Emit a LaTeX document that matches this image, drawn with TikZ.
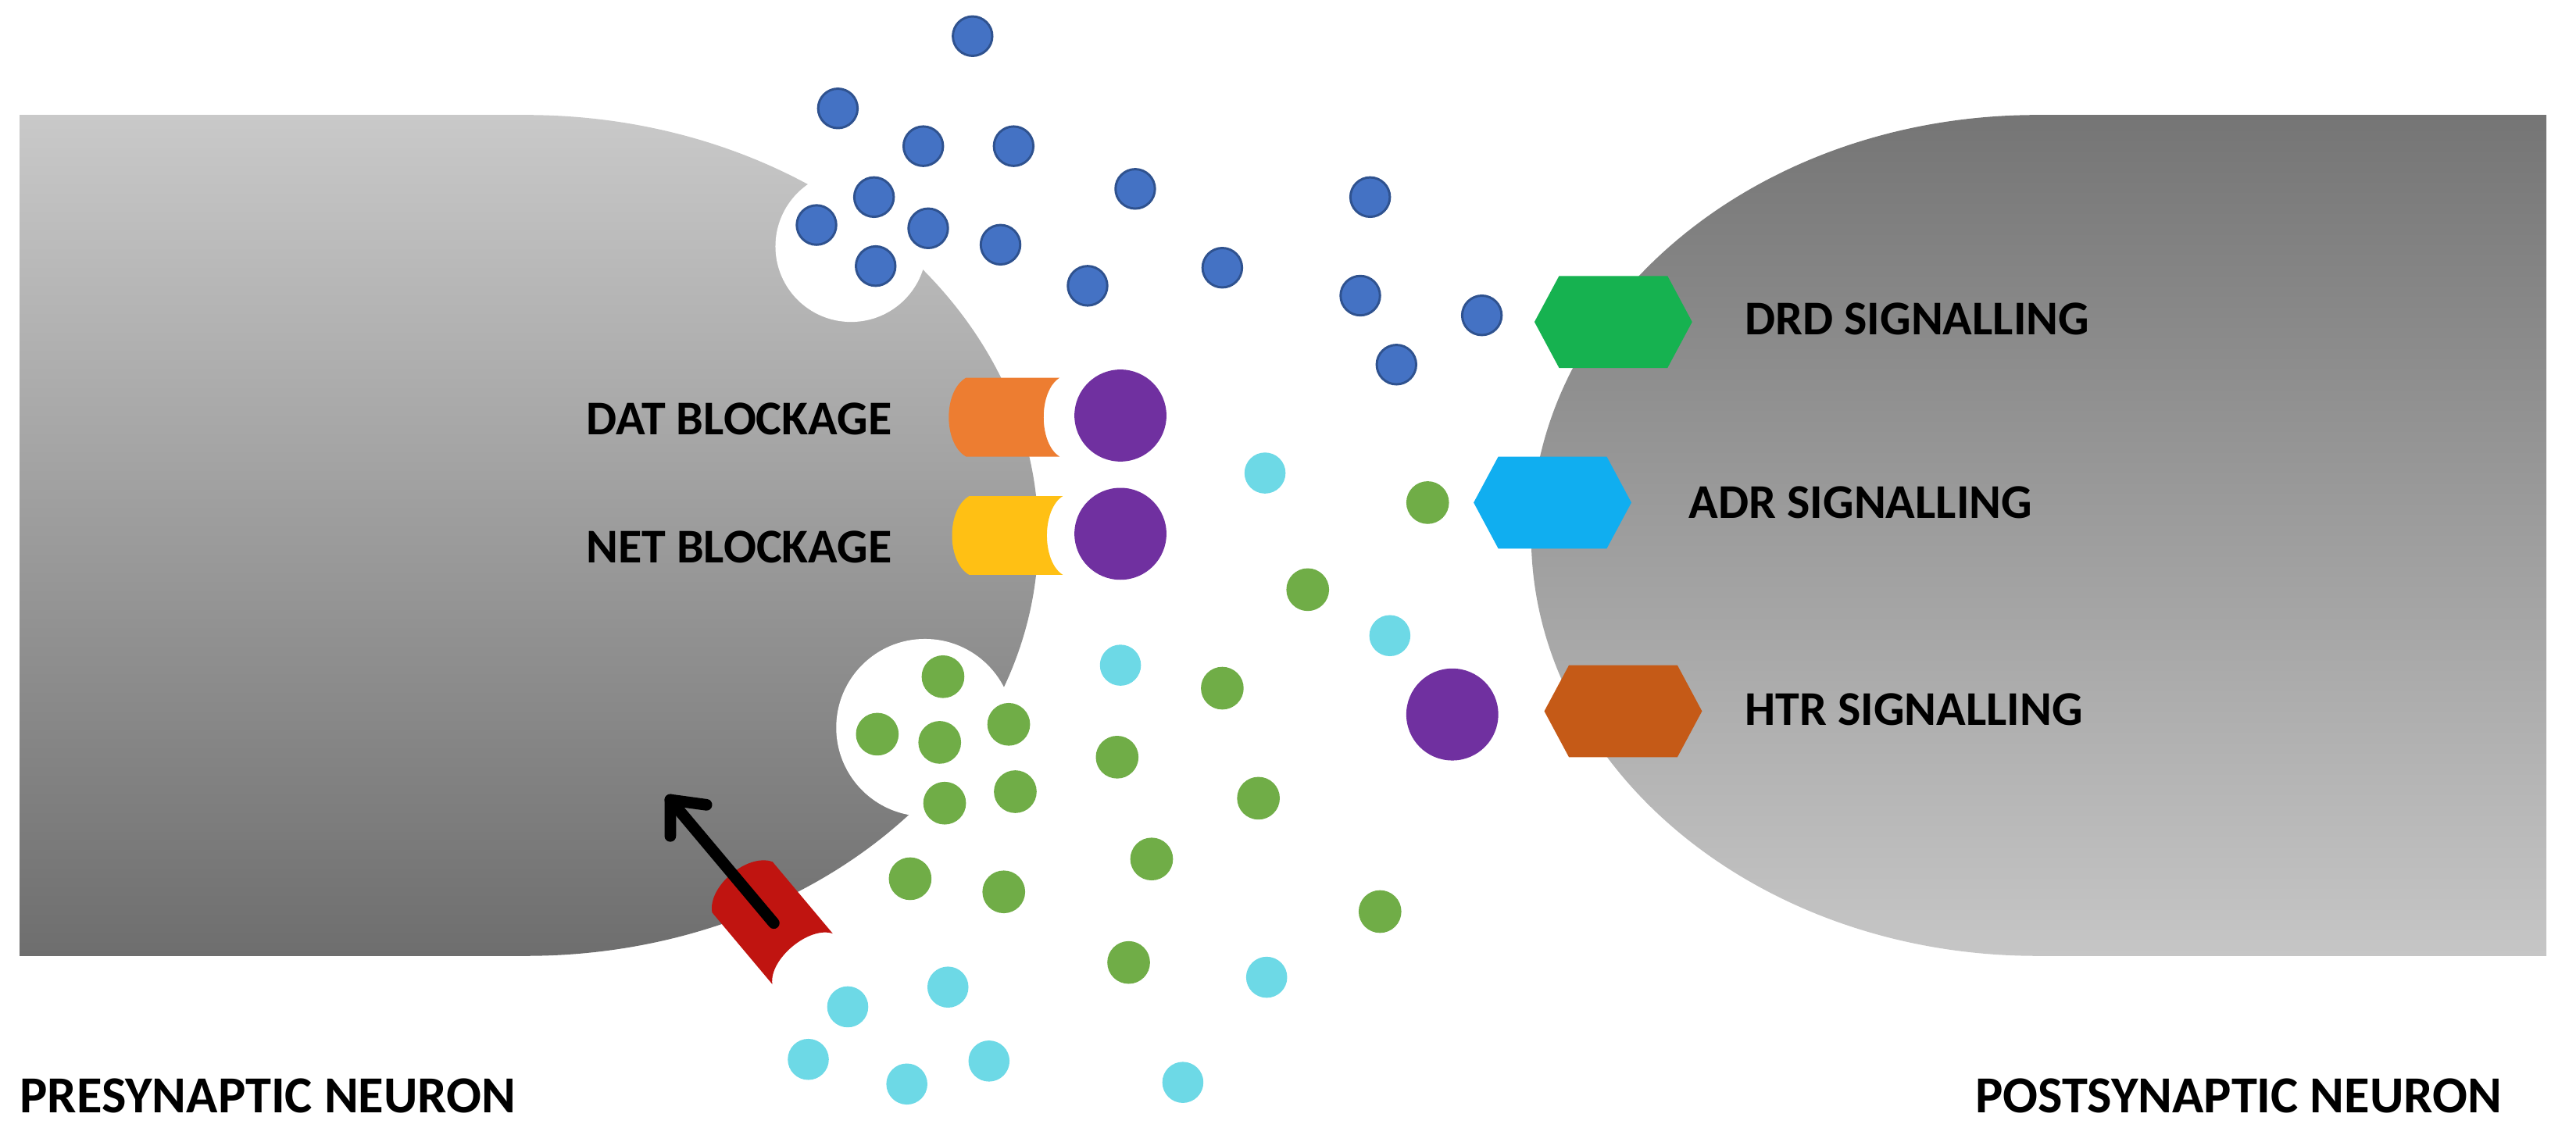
\documentclass[tikz,border=0pt]{standalone}
\usepackage{fontspec}
\setmainfont{Carlito}
\usetikzlibrary{calc}
\definecolor{cblue}{RGB}{68,114,196}
\definecolor{cbluedk}{RGB}{47,82,143}
\definecolor{ccyan}{RGB}{109,217,230}
\definecolor{cgreen}{RGB}{112,173,71}
\definecolor{cpurp}{RGB}{112,48,160}
\definecolor{corange}{RGB}{237,125,49}
\definecolor{cyellow}{RGB}{255,192,20}
\definecolor{cred}{RGB}{192,20,16}
\definecolor{hgreen}{RGB}{22,178,80}
\definecolor{hblue}{RGB}{16,174,240}
\definecolor{hbrown}{RGB}{197,90,23}
\definecolor{gA}{RGB}{201,201,201}
\definecolor{gB}{RGB}{110,110,110}
\definecolor{gC}{RGB}{117,117,117}
\definecolor{gD}{RGB}{198,198,198}
\begin{document}
\begin{tikzpicture}[x=0.05cm,y=-0.05cm,
  lab/.style={font=\fontsize{42}{46}\selectfont\bfseries,inner sep=0pt},
  blab/.style={font=\fontsize{45}{50}\selectfont\bfseries,inner sep=0pt},
  bdot/.style={fill=cblue,draw=cbluedk,line width=2pt},
  cdot/.style={fill=ccyan},
  gdot/.style={fill=cgreen},
  purp/.style={fill=cpurp}]
\useasboundingbox (0,0) rectangle (1568,695);
% presynaptic
\path[top color=gA,bottom color=gB]
  (12,70) -- (320,70) arc[start angle=90,end angle=-90,x radius=312,y radius=-256] -- (12,582) -- cycle;
% postsynaptic
\path[top color=gC,bottom color=gD]
  (1550,70) -- (1240,70) arc[start angle=90,end angle=270,x radius=308,y radius=-256] -- (1550,582) -- cycle;
% vesicle cavities
\fill[white] (518,150) circle[radius=46];
\fill[white] (563,443) circle[radius=54];
% transporters
\newcommand\transp[3]{\fill[#1] (#2-57,#3-24) -- (#2,#3-24) .. controls (#2-13,#3-16) and (#2-13,#3+16) .. (#2,#3+24) -- (#2-57,#3+24) .. controls (#2-71,#3+16) and (#2-71,#3-16) .. (#2-57,#3-24) -- cycle;}
\transp{corange}{645}{254}
\transp{cyellow}{647}{326}
\begin{scope}[shift={(466,557)},rotate=-50]
\transp{cred}{35}{0}
\end{scope}
\coordinate (as) at (471,562);
\coordinate (ae) at (408,487);
\draw[line width=10pt,line cap=round] (as) -- (ae);
\draw[line width=10pt,line cap=round,line join=round] ($(ae)+(0,22)$) -- (ae) -- ($(ae)+(22,3)$);
% purple
\fill[purp] (682,253) circle[radius=28];
\fill[purp] (682,325) circle[radius=28];
\fill[purp] (884,435) circle[radius=28];
% hexagons
\newcommand\hexa[3]{\fill[#1] (#2-48,#3) -- (#2-33,#3-28) -- (#2+33,#3-28) -- (#2+48,#3) -- (#2+33,#3+28) -- (#2-33,#3+28) -- cycle;}
\hexa{hgreen}{982}{196}
\hexa{hblue}{945}{306}
\hexa{hbrown}{988}{433}
% dots
\foreach \x/\y in {592/22,510/66,562/89,617/89,497/137,532/120,565/139,609/149,533/162,691/115,662/174,744/163,834/120,828/180,902/192,850/222}
  \filldraw[bdot] (\x,\y) circle[radius=12];
\foreach \x/\y in {770/288,682/405,846/387,516/613,577/601,492/645,552/660,602/646,720/659,771/595}
  \fill[cdot] (\x,\y) circle[radius=12.5];
\foreach \x/\y in {869/306,796/359,574/412,534/447,572/452,614/441,575/489,618/482,680/461,744/419,766/486,701/523,554/535,611/543,687/586,840/555}
  \fill[gdot] (\x,\y) circle[radius=13];
% labels
\node[lab,anchor=east] (dat) at (543,255) {DAT BLOCKAGE};
\node[lab,anchor=east] (net) at (543,333) {NET BLOCKAGE};
\node[lab,anchor=west] (drd) at (1062,194) {DRD SIGNALLING};
\node[lab,anchor=west] (adr) at (1028,306) {ADR SIGNALLING};
\node[lab,anchor=west] (htr) at (1062,432) {HTR SIGNALLING};
\node[blab,anchor=west] (pre) at (12,667) {PRESYNAPTIC NEURON};
\node[blab,anchor=east] (post) at (1523,667) {POSTSYNAPTIC NEURON};
\end{tikzpicture}
\end{document}
